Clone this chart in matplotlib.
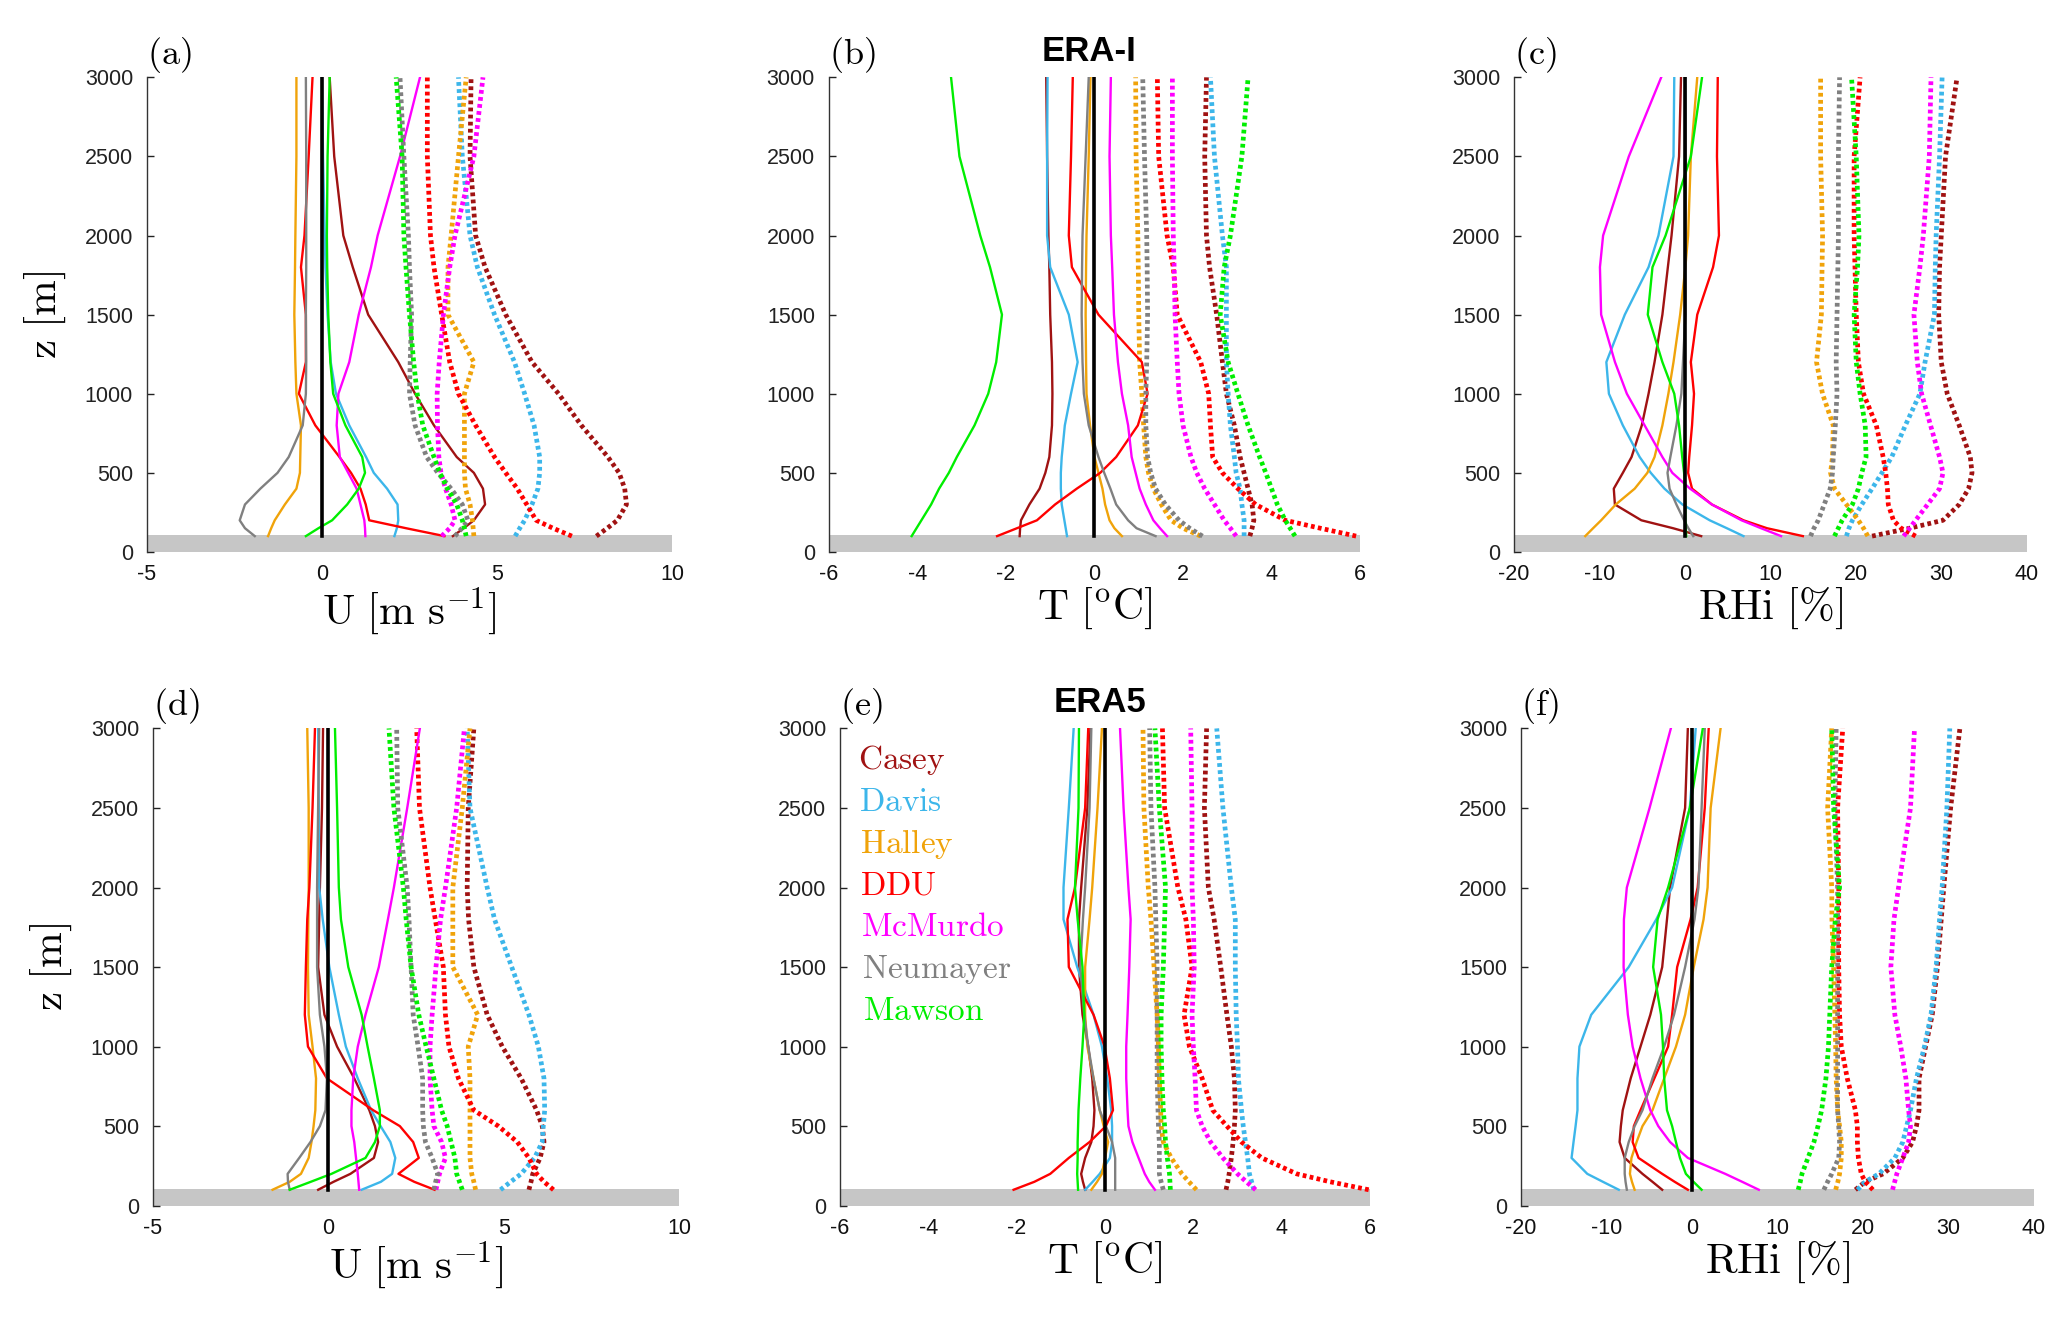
import numpy as np
import matplotlib
matplotlib.use('Agg')
import matplotlib.pyplot as plt

plt.rcParams['mathtext.fontset'] = 'cm'
plt.rcParams['font.family'] = ['Liberation Sans', 'DejaVu Sans']
plt.rcParams['axes.unicode_minus'] = False

# heights of the profiles [m]
z = [100, 150, 200, 300, 400, 500, 600, 800, 1000, 1200, 1500, 1800, 2000, 2500, 3000]

stations = ['Casey', 'Davis', 'Halley', 'DDU', 'McMurdo', 'Neumayer', 'Mawson']
colors = ['#a01212', '#3cb6ea', '#f0a30a', '#ff0000', '#ff00ff', '#808080', '#00ee00']

# ---- ERA-I, wind speed (solid = mean bias, dotted = rmse)
u_erai_bias = [
    [3.74, 4.05, 4.34, 4.66, 4.6, 4.34, 3.85, 3.2, 2.66, 2.18, 1.32, 0.88, 0.61, 0.35, 0.22],
    [2.07, 2.14, 2.18, 2.16, 1.86, 1.48, 1.26, 0.78, 0.4, 0.25, 0.16, 0.1, 0.08, 0.03, 0.0],
    [-1.54, -1.45, -1.35, -1.06, -0.73, -0.63, -0.62, -0.6, -0.73, -0.76, -0.79, -0.77, -0.76, -0.73, -0.73],
    [3.5, 2.4, 1.35, 1.25, 1.1, 0.83, 0.5, -0.19, -0.66, -0.46, -0.46, -0.6, -0.5, -0.38, -0.27],
    [1.24, 1.23, 1.21, 1.1, 0.99, 0.75, 0.51, 0.42, 0.47, 0.78, 1.05, 1.4, 1.59, 2.23, 2.8],
    [-1.92, -2.2, -2.35, -2.2, -1.76, -1.27, -0.95, -0.55, -0.46, -0.45, -0.46, -0.45, -0.45, -0.45, -0.46],
    [-0.46, -0.1, 0.29, 0.72, 1.05, 1.23, 1.15, 0.67, 0.32, 0.24, 0.18, 0.15, 0.14, 0.16, 0.22],
]
u_erai_rmse = [
    [7.84, 8.15, 8.44, 8.7, 8.65, 8.49, 8.17, 7.41, 6.76, 6.0, 5.25, 4.66, 4.39, 4.23, 4.26],
    [5.52, 5.65, 5.79, 6.0, 6.17, 6.22, 6.22, 6.06, 5.79, 5.5, 4.93, 4.44, 4.23, 4.01, 3.9],
    [4.34, 4.32, 4.3, 4.23, 4.1, 4.07, 4.07, 4.07, 4.07, 4.34, 3.6, 3.6, 3.69, 3.9, 4.12],
    [7.14, 6.6, 6.12, 5.85, 5.58, 5.25, 4.93, 4.39, 3.9, 3.65, 3.42, 3.2, 3.1, 3.01, 3.01],
    [3.42, 3.65, 3.8, 3.69, 3.53, 3.4, 3.34, 3.3, 3.29, 3.35, 3.47, 3.65, 3.8, 4.34, 4.6],
    [3.8, 4.0, 4.17, 4.01, 3.69, 3.31, 2.99, 2.66, 2.5, 2.52, 2.56, 2.5, 2.47, 2.34, 2.23],
    [4.12, 4.07, 4.01, 3.85, 3.58, 3.37, 3.2, 2.88, 2.72, 2.62, 2.5, 2.4, 2.34, 2.29, 2.12],
]

# ---- ERA-I, temperature
t_erai_bias = [
    [-1.69, -1.68, -1.66, -1.47, -1.24, -1.11, -1.02, -0.96, -0.95, -0.96, -1.0, -1.02, -1.04, -1.07, -1.09],
    [-0.62, -0.65, -0.68, -0.74, -0.76, -0.76, -0.74, -0.67, -0.53, -0.38, -0.58, -1.0, -1.07, -1.07, -1.06],
    [0.62, 0.45, 0.34, 0.24, 0.18, 0.09, 0.0, -0.1, -0.18, -0.19, -0.2, -0.19, -0.18, -0.13, -0.09],
    [-2.2, -1.75, -1.3, -0.89, -0.4, 0.13, 0.49, 0.98, 1.2, 1.07, 0.09, -0.51, -0.58, -0.53, -0.49],
    [1.64, 1.48, 1.33, 1.16, 1.02, 0.93, 0.84, 0.76, 0.62, 0.53, 0.44, 0.4, 0.37, 0.34, 0.37],
    [1.38, 0.95, 0.76, 0.49, 0.36, 0.22, 0.09, -0.13, -0.24, -0.27, -0.29, -0.28, -0.27, -0.2, -0.13],
    [-4.13, -4.02, -3.91, -3.69, -3.51, -3.29, -3.11, -2.71, -2.4, -2.22, -2.09, -2.36, -2.58, -3.05, -3.24],
]
t_erai_rmse = [
    [3.51, 3.56, 3.6, 3.56, 3.47, 3.38, 3.29, 3.16, 2.98, 2.89, 2.76, 2.6, 2.53, 2.49, 2.53],
    [3.38, 3.38, 3.38, 3.33, 3.29, 3.2, 3.16, 3.07, 3.02, 2.98, 2.98, 2.98, 2.89, 2.71, 2.62],
    [2.4, 2.0, 1.73, 1.51, 1.33, 1.22, 1.16, 1.11, 1.07, 1.02, 1.0, 0.99, 0.98, 0.94, 0.93],
    [5.91, 5.1, 4.31, 3.64, 3.24, 2.89, 2.67, 2.62, 2.58, 2.4, 1.87, 1.78, 1.64, 1.45, 1.42],
    [3.2, 3.07, 2.93, 2.71, 2.49, 2.31, 2.18, 2.0, 1.91, 1.87, 1.82, 1.8, 1.78, 1.76, 1.76],
    [2.44, 2.15, 1.91, 1.6, 1.38, 1.27, 1.2, 1.16, 1.16, 1.18, 1.2, 1.19, 1.18, 1.13, 1.09],
    [4.53, 4.42, 4.31, 4.13, 4.0, 3.87, 3.73, 3.47, 3.24, 3.02, 2.84, 2.93, 3.07, 3.33, 3.47],
]

# ---- ERA-I, relative humidity wrt ice
rh_erai_bias = [
    [1.9, -1.4, -5.1, -8.2, -8.33, -7.27, -6.25, -5.05, -4.26, -3.56, -2.64, -2.0, -1.57, -0.69, -0.46],
    [6.85, 4.9, 2.9, -0.3, -2.4, -4.0, -5.3, -7.27, -8.9, -9.2, -7.04, -4.26, -3.1, -1.34, -1.25],
    [-11.67, -10.75, -9.81, -8.1, -5.88, -4.4, -3.56, -2.64, -1.94, -1.34, -0.56, 0.05, 0.37, 0.69, 1.44],
    [13.8, 9.6, 6.85, 3.15, 0.83, 0.37, 0.5, 0.83, 1.06, 0.69, 1.44, 3.29, 3.98, 3.75, 3.84],
    [11.25, 8.9, 6.62, 3.15, 0.6, -1.48, -2.64, -4.72, -6.8, -8.19, -9.81, -9.95, -9.58, -6.57, -2.78],
    [0.97, 0.4, -0.1, -1.0, -1.8, -2.04, -1.71, -1.0, -0.42, -0.23, 0.05, 0.05, 0.05, 0.1, 0.05],
    [0.15, 0.1, 0.05, 0.05, 0.0, -0.1, -0.32, -0.69, -1.25, -2.64, -4.35, -3.8, -2.27, 0.69, 2.0],
]
rh_erai_rmse = [
    [21.9, 26.3, 30.2, 32.1, 33.2, 33.6, 33.4, 32.1, 30.7, 30.0, 29.7, 29.8, 30.0, 30.5, 31.85],
    [18.9, 19.2, 19.6, 20.7, 21.9, 23.06, 24.2, 25.8, 27.5, 28.1, 29.2, 29.3, 29.4, 29.8, 30.1],
    [21.4, 20.9, 20.3, 18.9, 17.5, 17.04, 17.27, 17.36, 16.1, 15.4, 15.97, 16.05, 16.11, 15.88, 15.88],
    [27.0, 25.3, 24.4, 23.8, 23.7, 23.5, 23.2, 22.4, 20.9, 20.3, 20.05, 19.9, 19.8, 19.8, 20.5],
    [25.6, 26.3, 27.0, 28.4, 29.8, 30.2, 29.8, 28.75, 27.7, 27.2, 26.8, 27.5, 27.9, 28.6, 28.8],
    [14.7, 15.1, 15.6, 16.3, 17.0, 17.27, 17.36, 17.6, 17.8, 17.7, 17.8, 17.9, 17.96, 17.96, 18.1],
    [17.5, 17.95, 18.4, 19.6, 20.3, 20.7, 21.2, 21.1, 20.5, 20.05, 19.8, 20.2, 20.37, 20.05, 19.5],
]

# ---- ERA5, wind speed
u_era5_bias = [
    [-0.29, 0.15, 0.63, 1.3, 1.42, 1.33, 1.17, 0.74, 0.25, -0.11, -0.29, -0.26, -0.24, -0.18, -0.15],
    [0.95, 1.5, 1.82, 1.91, 1.77, 1.49, 1.22, 0.84, 0.5, 0.3, 0.03, -0.16, -0.26, -0.27, -0.29],
    [-1.59, -1.1, -0.78, -0.56, -0.48, -0.42, -0.37, -0.35, -0.45, -0.56, -0.58, -0.57, -0.56, -0.56, -0.6],
    [3.03, 2.45, 2.0, 2.58, 2.42, 2.04, 1.28, -0.04, -0.58, -0.67, -0.64, -0.6, -0.54, -0.45, -0.38],
    [0.88, 0.86, 0.84, 0.79, 0.74, 0.66, 0.66, 0.71, 0.84, 1.06, 1.44, 1.7, 1.87, 2.25, 2.61],
    [-1.1, -1.15, -1.16, -0.83, -0.51, -0.24, -0.08, -0.04, -0.11, -0.24, -0.32, -0.32, -0.32, -0.29, -0.26],
    [-1.1, -0.5, 0.09, 1.06, 1.33, 1.47, 1.47, 1.3, 1.12, 0.95, 0.57, 0.36, 0.3, 0.25, 0.19],
]
u_era5_rmse = [
    [5.72, 5.78, 5.83, 6.04, 6.15, 6.1, 5.94, 5.5, 4.96, 4.53, 4.15, 4.0, 3.96, 3.99, 4.15],
    [4.91, 5.2, 5.5, 5.88, 6.1, 6.13, 6.17, 6.15, 5.99, 5.72, 5.23, 4.74, 4.53, 4.04, 3.96],
    [4.2, 4.15, 4.09, 4.04, 4.04, 4.04, 4.04, 4.04, 3.99, 4.26, 3.55, 3.55, 3.55, 3.82, 4.04],
    [6.42, 6.15, 5.94, 5.72, 5.39, 4.85, 4.15, 3.71, 3.44, 3.34, 3.28, 3.05, 2.9, 2.6, 2.52],
    [3.07, 3.12, 3.17, 3.34, 3.23, 3.01, 2.96, 2.9, 2.9, 2.96, 3.07, 3.2, 3.34, 3.66, 3.88],
    [3.01, 3.06, 3.12, 2.96, 2.77, 2.71, 2.69, 2.69, 2.56, 2.42, 2.36, 2.3, 2.25, 1.98, 1.95],
    [3.82, 3.74, 3.66, 3.61, 3.5, 3.39, 3.23, 3.01, 2.79, 2.58, 2.36, 2.22, 2.14, 1.87, 1.73],
]

# ---- ERA5, temperature
t_era5_bias = [
    [-0.45, -0.5, -0.54, -0.45, -0.31, -0.26, -0.24, -0.29, -0.38, -0.51, -0.59, -0.59, -0.54, -0.4, -0.33],
    [-0.45, -0.28, -0.12, 0.11, 0.16, 0.16, 0.14, 0.05, -0.07, -0.26, -0.63, -0.94, -0.94, -0.82, -0.71],
    [-0.31, -0.18, -0.07, 0.0, 0.07, -0.03, -0.12, -0.26, -0.4, -0.45, -0.45, -0.35, -0.29, -0.17, -0.07],
    [-2.07, -1.6, -1.24, -0.82, -0.35, 0.02, 0.18, 0.11, -0.01, -0.26, -0.82, -0.85, -0.68, -0.45, -0.38],
    [1.13, 1.0, 0.9, 0.76, 0.62, 0.53, 0.51, 0.48, 0.48, 0.51, 0.55, 0.58, 0.53, 0.42, 0.34],
    [0.23, 0.23, 0.23, 0.23, 0.16, 0.02, -0.12, -0.26, -0.38, -0.47, -0.56, -0.5, -0.45, -0.35, -0.31],
    [-0.61, -0.62, -0.63, -0.62, -0.62, -0.61, -0.6, -0.56, -0.51, -0.47, -0.51, -0.62, -0.68, -0.6, -0.59],
]
t_era5_rmse = [
    [2.74, 2.78, 2.81, 2.86, 2.9, 2.93, 2.95, 2.93, 2.86, 2.76, 2.62, 2.47, 2.34, 2.25, 2.3],
    [3.37, 3.32, 3.27, 3.23, 3.18, 3.13, 3.09, 3.02, 3.0, 2.97, 2.95, 2.95, 2.86, 2.67, 2.53],
    [2.07, 1.9, 1.74, 1.5, 1.32, 1.27, 1.26, 1.23, 1.21, 1.18, 1.11, 1.04, 0.98, 0.88, 0.86],
    [5.97, 5.1, 4.34, 3.55, 3.09, 2.76, 2.44, 2.2, 1.91, 1.79, 1.97, 1.83, 1.65, 1.35, 1.3],
    [3.41, 3.2, 3.0, 2.67, 2.39, 2.2, 2.07, 2.04, 2.0, 1.97, 2.02, 2.0, 1.97, 1.97, 1.94],
    [1.32, 1.27, 1.23, 1.23, 1.23, 1.21, 1.2, 1.18, 1.18, 1.18, 1.18, 1.15, 1.13, 1.04, 1.01],
    [1.48, 1.47, 1.46, 1.41, 1.37, 1.35, 1.32, 1.29, 1.27, 1.27, 1.32, 1.35, 1.37, 1.23, 1.13],
]

# ---- ERA5, relative humidity wrt ice
rh_era5_bias = [
    [-3.46, -4.6, -5.77, -7.85, -8.45, -8.3, -8.08, -7.15, -6.0, -4.85, -3.46, -2.9, -2.54, -0.78, -0.46],
    [-8.54, -10.4, -12.23, -14.07, -13.84, -13.6, -13.38, -13.38, -13.15, -11.77, -7.38, -4.15, -2.3, -0.23, 0.46],
    [-6.69, -7.0, -7.24, -7.06, -6.46, -5.77, -4.6, -3.23, -1.85, -0.78, 0.23, 1.38, 1.85, 2.21, 3.37],
    [-0.46, -2.0, -3.46, -6.23, -6.92, -6.78, -6.0, -4.38, -2.77, -2.3, -1.71, -0.14, 0.69, 1.52, 1.98],
    [7.85, 5.9, 3.92, -0.46, -2.54, -3.92, -4.85, -6.0, -6.92, -7.48, -7.98, -7.94, -7.6, -4.94, -2.45],
    [-7.6, -7.75, -7.85, -7.85, -7.38, -6.69, -5.77, -4.6, -3.23, -2.08, -0.78, 0.32, 0.78, 1.15, 1.52],
    [1.15, 0.2, -0.69, -1.38, -1.85, -2.3, -2.9, -3.23, -3.37, -3.6, -4.52, -4.0, -2.77, -0.23, 1.29],
]
rh_era5_rmse = [
    [19.15, 20.3, 22.4, 24.7, 25.84, 26.3, 26.6, 26.6, 27.37, 28.15, 28.75, 29.2, 29.5, 30.3, 31.38],
    [19.4, 20.3, 21.9, 23.77, 24.7, 25.15, 25.6, 26.3, 27.23, 28.0, 28.6, 29.0, 29.3, 29.86, 30.2],
    [16.84, 17.1, 17.3, 17.5, 17.5, 17.3, 17.07, 16.9, 16.84, 16.75, 16.6, 16.4, 16.38, 15.9, 16.38],
    [21.2, 20.3, 19.84, 19.5, 19.38, 19.38, 19.15, 18.2, 17.5, 17.3, 17.2, 17.2, 17.2, 17.07, 17.67],
    [23.5, 23.75, 24.0, 24.7, 25.38, 25.6, 25.38, 25.06, 24.46, 23.77, 23.3, 23.67, 24.2, 25.6, 26.07],
    [15.46, 15.9, 16.38, 17.2, 17.3, 17.2, 17.07, 17.07, 17.07, 17.07, 17.07, 17.07, 17.07, 16.75, 16.9],
    [12.46, 12.7, 12.9, 13.6, 14.3, 14.77, 15.2, 15.7, 16.0, 16.15, 16.38, 16.8, 17.3, 16.6, 16.38],
]

xlims = [(-5, 10), (-6, 6), (-20, 40)]
xticks = [[-5, 0, 5, 10], [-6, -4, -2, 0, 2, 4, 6], [-20, -10, 0, 10, 20, 30, 40]]
xlabels = [r'$\mathrm{U\ [m\ s^{-1}]}$', r'$\mathrm{T\ [^{o}C]}$', r'$\mathrm{RHi\ [\%]}$']

fig = plt.figure(figsize=(20.67, 13.22), dpi=100)

# axes boxes [left, bottom, width, height] in figure fraction
boxes = [
    [0.0711, 0.5825, 0.254, 0.359], [0.401, 0.5825, 0.257, 0.359], [0.7325, 0.5825, 0.248, 0.359],
    [0.074, 0.088, 0.2545, 0.361], [0.4064, 0.088, 0.2564, 0.361], [0.7358, 0.088, 0.248, 0.361],
]
panels = [
    (u_erai_bias, u_erai_rmse), (t_erai_bias, t_erai_rmse), (rh_erai_bias, rh_erai_rmse),
    (u_era5_bias, u_era5_rmse), (t_era5_bias, t_era5_rmse), (rh_era5_bias, rh_era5_rmse),
]
letters = ['(a)', '(b)', '(c)', '(d)', '(e)', '(f)']

for i, (bias, rmse) in enumerate(panels):
    ax = fig.add_axes(boxes[i])
    col = i % 3

    # ground bar
    ax.axhspan(0, 105, color='#c6c6c6', zorder=1, lw=0)

    for k in range(len(stations)):
        ax.plot(bias[k], z, color=colors[k], lw=1.7, zorder=3)
        ax.plot(rmse[k], z, color=colors[k], lw=3.4, linestyle=(0, (0.8, 0.7)),
                dash_capstyle='butt', zorder=3)
    ax.plot([0, 0], [100, 3000], color='black', lw=2.6, zorder=4)

    ax.set_xlim(xlims[col])
    ax.set_ylim(0, 3000)
    ax.set_xticks(xticks[col])
    ax.set_yticks(np.arange(0, 3001, 500))
    ax.tick_params(axis='x', length=0, labelsize=15.5, pad=9, colors='#111111')
    ax.tick_params(axis='y', direction='in', length=5, width=1, labelsize=15.5, pad=10,
                   colors='#222222')
    for s in ['top', 'right', 'bottom']:
        ax.spines[s].set_visible(False)
    ax.spines['left'].set_color('#333333')
    ax.spines['left'].set_linewidth(1.0)

    ax.set_xlabel(xlabels[col], fontsize=31, labelpad=0)
    if col == 0:
        ax.set_ylabel(r'$\mathrm{z\ [m]}$', fontsize=31, labelpad=12)

    ax.text(0.0, 1.005, r'$\mathrm{' + letters[i] + '}$', transform=ax.transAxes,
            fontsize=26, ha='left', va='bottom')

    if i == 1:
        ax.text(0.49, 1.02, 'ERA-I', transform=ax.transAxes, fontsize=25,
                fontweight='bold', ha='center', va='bottom')
    if i == 4:
        ax.text(0.49, 1.02, 'ERA5', transform=ax.transAxes, fontsize=25,
                fontweight='bold', ha='center', va='bottom')
        # station names as coloured legend
        for k, name in enumerate(stations):
            ax.text(0.034 + 0.0015 * k, 0.915 - 0.0875 * k, r'$\mathrm{' + name + '}$',
                    transform=ax.transAxes, color=colors[k], fontsize=24,
                    ha='left', va='baseline')

plt.savefig('out.png', dpi=100)
plt.close()
